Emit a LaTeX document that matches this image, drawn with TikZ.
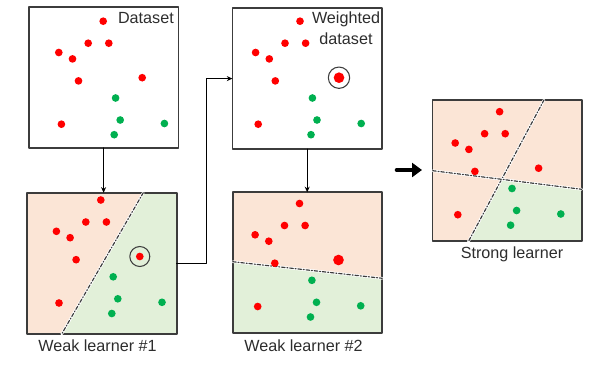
\documentclass[tikz,border=0pt]{standalone}
\usepackage{fontspec}
\setmainfont{Liberation Sans}
\usetikzlibrary{arrows.meta,backgrounds,positioning}
\definecolor{framegray}{RGB}{60,60,60}
\definecolor{textgray}{RGB}{45,45,45}
\definecolor{dotred}{RGB}{255,0,0}
\definecolor{dotgreen}{RGB}{0,176,80}
\definecolor{regionpeach}{RGB}{251,229,214}
\definecolor{regiongreen}{RGB}{226,240,217}
\newcommand{\samplecloud}[1]{%
  % Seven ordinary red samples, the reweighted one (size #1), four green.
  \foreach \px/\py in {67/12,52/34,72.6/34,22.6/43.3,36.3/49.7,42.3/71.7,25.2/115}
    \fill[dotred] (\px,\py) circle[radius=1.15mm];
  \fill[dotred] (106,68.5) circle[radius=#1];
  \foreach \px/\py in {79.4/88.8,84/110.8,78/125.5,128.2/114.3}
    \fill[dotgreen] (\px,\py) circle[radius=1.15mm];
}

\begin{document}
\begin{tikzpicture}[x=0.3mm, y=-0.3mm, line cap=round, line join=round,
  panel/.style={draw=framegray, line width=1.4pt, minimum width=44.85mm,
    minimum height=42.3mm, inner sep=0pt, outer sep=0pt},
  caption/.style={text=textgray, font=\fontsize{13.8pt}{17.9pt}\selectfont,
    inner sep=0pt},
  link/.style={draw=black, line width=0.9pt, -{Stealth[length=1.7mm,width=1.5mm]}},
  splitline/.style={draw=framegray, line width=1pt,
    dash pattern=on 3pt off 1.6pt on 0.8pt off 1.6pt,
    preaction={draw=white, line width=2.2pt, solid}},
  ring/.style={draw=framegray, line width=0.9pt}]
  \useasboundingbox (0,0) rectangle (606,364);

  % The five panels.
  \node[panel] (d1) at (103.6,77.3) {};
  \node[panel] (w1) at (102,263.3) {};
  \node[panel] (d2) at (307.2,78.6) {};
  \node[panel] (w2) at (307.5,262.8) {};
  \node[panel] (sl) at (507.2,170.8) {};

  % Where the decision boundaries meet the panel edges.
  \coordinate (cut1a) at (143.3,192.7);
  \coordinate (cut1b) at (61.7,334);
  \coordinate (cut2a) at (232.7,261.7);
  \coordinate (cut2b) at (382.3,278.3);
  \coordinate (cut3a) at (544,100);
  \coordinate (cut3b) at (468.3,241.7);
  \coordinate (cut4a) at (432.7,170.7);
  \coordinate (cut4b) at (581.7,189.3);
  \coordinate (cutx) at (501.6,179.3);

  % Region shading sits behind the frames.
  \begin{scope}[on background layer]
    \fill[regionpeach] (w1.north west) rectangle (w1.south east);
    \fill[regiongreen] (cut1a) -- (w1.north east) -- (w1.south east)
      -- (cut1b) -- cycle;
    \fill[regionpeach] (w2.north west) rectangle (w2.south east);
    \fill[regiongreen] (cut2a) -- (cut2b) -- (w2.south east)
      -- (w2.south west) -- cycle;
    \fill[regionpeach] (sl.north west) rectangle (sl.south east);
    \fill[regiongreen] (cutx) -- (cut4b) -- (sl.south east)
      -- (cut3b) -- cycle;
  \end{scope}

  \draw[splitline] (cut1a) -- (cut1b);
  \draw[splitline] (cut2a) -- (cut2b);
  \draw[splitline] (cut3a) -- (cut3b);
  \draw[splitline] (cut4a) -- (cut4b);

  % Samples in each panel.
  \begin{scope}[shift={(36.2,9.2)}]
    \samplecloud{1.15mm}
  \end{scope}
  \begin{scope}[shift={(33.8,188)}]
    \samplecloud{1.15mm}
    \draw[ring] (106,68.5) circle[radius=3mm];
  \end{scope}
  \begin{scope}[shift={(233,9.2)}]
    \samplecloud{1.6mm}
    \draw[ring] (106,68.5) circle[radius=3.2mm];
  \end{scope}
  \begin{scope}[shift={(232.5,191.5)}]
    \samplecloud{1.6mm}
  \end{scope}
  \begin{scope}[shift={(432.6,99.7)}]
    \samplecloud{1.15mm}
  \end{scope}

  % Texts.
  \node[caption, anchor=base] (dtxt) at (145.9,23.3) {Dataset};
  \node[caption, align=center] (wtxt) at (346,28.5) {Weighted\\dataset};
  \node[caption, anchor=base] (l1) at (97.5,351.5) {Weak learner \#1};
  \node[caption, anchor=base] (l2) at (303.5,351.7) {Weak learner \#2};
  \node[caption, anchor=base] (l3) at (512,258) {Strong learner};

  % Flow between panels.
  \draw[link] (d1.south) -- (d1.south |- w1.north);
  \draw[link] (w1.east) -- ++(30,0) |- (d2.west);
  \draw[link] (d2.south) -- (d2.south |- w2.north);

  \coordinate (bigtail) at (397,170);
  \coordinate (bighead) at (422,170);
  \draw[line width=1.4mm, -{Triangle[length=3mm,width=4.2mm]}]
    (bigtail) -- (bighead);
\end{tikzpicture}
\end{document}
